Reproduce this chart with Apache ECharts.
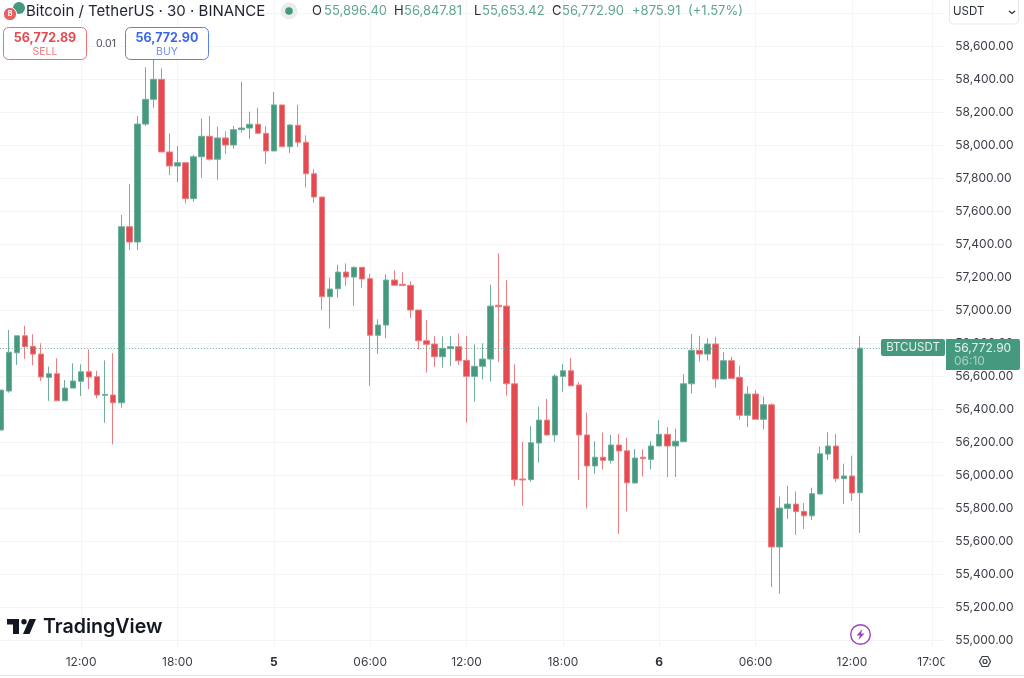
<!DOCTYPE html>
<html lang="en">

<head>
    <meta charset="UTF-8" />
    <title>Bitcoin / TetherUS 30m</title>
    <script src="https://cdn.jsdelivr.net/npm/echarts@6/dist/echarts.min.js"></script>
    <style>
        html, body { margin: 0; padding: 0; background: #fff; }
        #chart { width: 1024px; height: 678px; }
    </style>
    <script type="text/javascript">
        // half hour slots, the day number stands in for 00:00 and the slots after the last candle stay empty
        const categories = [
            "07:00","07:30","08:00","08:30","09:00","09:30","10:00","10:30","11:00","11:30",
            "12:00","12:30","13:00","13:30","14:00","14:30","15:00","15:30","16:00","16:30",
            "17:00","17:30","18:00","18:30","19:00","19:30","20:00","20:30","21:00","21:30",
            "22:00","22:30","23:00","23:30","5","00:30","01:00","01:30","02:00","02:30",
            "03:00","03:30","04:00","04:30","05:00","05:30","06:00","06:30","07:00","07:30",
            "08:00","08:30","09:00","09:30","10:00","10:30","11:00","11:30","12:00","12:30",
            "13:00","13:30","14:00","14:30","15:00","15:30","16:00","16:30","17:00","17:30",
            "18:00","18:30","19:00","19:30","20:00","20:30","21:00","21:30","22:00","22:30",
            "23:00","23:30","6","00:30","01:00","01:30","02:00","02:30","03:00","03:30",
            "04:00","04:30","05:00","05:30","06:00","06:30","07:00","07:30","08:00","08:30",
            "09:00","09:30","10:00","10:30","11:00","11:30","12:00","12:30","13:00","13:30",
            "14:00","14:30","15:00","15:30","16:00","16:30","17:00","17:30"
        ];
        const tickIndexes = [10, 22, 34, 46, 58, 70, 82, 94, 106, 116];
        const dayLabels = ["5", "6"];

        const opens = [
            56277,56513,56745,56848,56784,56737,56596,56618,56454,56531,
            56572,56630,56600,56487,56489,56442,57509,57416,58131,58281,
            58402,57962,57877,57897,57679,57933,58057,57918,58047,58004,
            58097,58107,58130,58075,57968,58247,57994,58124,58021,57830,
            57689,57085,57133,57234,57204,57263,57194,56851,56913,57186,
            57160,57154,57004,56818,56798,56721,56770,56782,56699,56602,
            56663,56707,57033,57028,56557,55980,55976,56198,56337,56247,
            56602,56636,56550,56247,56059,56112,56093,56186,56151,55956,
            56112,56099,56180,56251,56180,56206,56557,56760,56737,56798,
            56586,56697,56596,56366,56495,56342,56430,55568,55802,55828,
            55784,55757,55889,56131,56180,55982,55998,55896.40
        ];
        const closes = [
            56519,56748,56848,56782,56737,56598,56618,56454,56531,56574,
            56630,56598,56489,56493,56442,57509,57416,58131,58281,58402,
            57962,57877,57897,57679,57933,58057,57918,58047,58004,58097,
            58107,58130,58075,57968,58247,57994,58125,58021,57830,57689,
            57085,57131,57234,57204,57263,57192,56851,56913,57186,57154,
            57152,57004,56818,56796,56721,56772,56782,56697,56602,56663,
            56707,57028,57024,56557,55976,55974,56200,56337,56247,56604,
            56636,56545,56247,56059,56112,56093,56186,56150,55957,56107,
            56103,56180,56251,56180,56209,56557,56760,56737,56798,56586,
            56697,56590,56366,56495,56342,56430,55568,55804,55828,55782,
            55757,55891,56133,56180,55982,55998,55895,56772.90
        ];
        const lows = [
            56277,56503,56671,56707,56669,56574,56454,56454,56454,56531,
            56483,56524,56469,56321,56190,56412,57368,57368,58119,58230,
            57962,57822,57780,57651,57661,57806,57909,57794,57950,57982,
            58079,58042,58075,57889,57968,57994,57956,57992,57748,57654,
            57004,56892,57079,57151,57030,57139,56544,56739,56833,57154,
            57150,56956,56764,56624,56659,56655,56665,56671,56321,56449,
            56584,56572,56691,56485,55938,55818,55964,56079,56242,56204,
            56509,56544,55974,55802,56012,56039,56073,55647,55784,55951,
            55994,56039,56180,55990,55992,56206,56499,56691,56697,56533,
            56586,56586,56339,56295,56342,56281,55325,55285,55738,55641,
            55677,55731,55889,56095,55960,55828,55847,55653.42
        ];
        const highs = [
            56519,56883,56848,56909,56857,56802,56661,56711,56580,56681,
            56675,56766,56636,56699,56742,57580,57768,58180,58475,58519,
            58469,58075,57998,57897,57944,58164,58180,58115,58087,58119,
            58388,58206,58230,58119,58325,58247,58131,58248,58063,57857,
            57689,57200,57277,57287,57267,57263,57224,56948,57221,57245,
            57233,57178,57004,56944,56848,56845,56848,56863,56848,56796,
            56802,57157,57348,57186,56675,56206,56301,56418,56465,56615,
            56677,56713,56568,56382,56209,56261,56247,56253,56230,56162,
            56160,56210,56337,56295,56285,56616,56859,56848,56833,56842,
            56748,56721,56667,56542,56519,56479,56439,55873,55939,55905,
            55834,55927,56176,56263,56253,56073,56121,56847.81
        ];

        const lastPrice = 56772.90;
        const askPrice = "56,772.90";
        const bidPrice = "56,772.89";
        const spread = "0.01";
        const countdown = "06:10";
        const titleText = "Bitcoin / TetherUS \u00b7 30 \u00b7 BINANCE";

        const green = "#45997f";
        const red = "#e34b50";
        const wickGreen = "#6fae9a";
        const wickRed = "#ec7d80";
        const gridColor = "#f2f4f5";
        const fontName = "Inter";

        function candleData() {
            let out = [];
            for (let i = 0; i < opens.length; i++) {
                out.push([opens[i], closes[i], lows[i], highs[i]]);
            }
            return out;
        }

        function isTick(index) {
            return tickIndexes.indexOf(index) >= 0;
        }

        function priceLabel(v) {
            if (v > 58600) return "";
            return v.toLocaleString("en-US", { minimumFractionDigits: 2, maximumFractionDigits: 2 });
        }

        function headerGraphics() {
            const valueStyle = { fontFamily: fontName, fontSize: 13, fill: "#5fa68f" };
            const letterStyle = { fontFamily: fontName, fontSize: 13, fill: "#2a2e39" };
            const parts = [
                ["O", 312, letterStyle], ["55,896.40", 324, valueStyle],
                ["H", 394, letterStyle], ["56,847.81", 404, valueStyle],
                ["L", 474, letterStyle], ["55,653.42", 482, valueStyle],
                ["C", 552, letterStyle], ["56,772.90", 562, valueStyle],
                ["+875.91", 632, valueStyle], ["(+1.57%)", 688, valueStyle]
            ];
            let out = parts.map(p => ({
                type: "text", x: p[1], y: 11, z: 100,
                style: Object.assign({ text: p[0], textVerticalAlign: "middle" }, p[2])
            }));
            out.push(
                { type: "text", x: 26, y: 11, z: 100, style: { text: titleText, fontFamily: fontName, fontSize: 15, fill: "#1f2430", textVerticalAlign: "middle" } },
                { type: "circle", z: 100, shape: { cx: 289, cy: 11, r: 8.5 }, style: { fill: "#e9eeed" } },
                { type: "circle", z: 101, shape: { cx: 289, cy: 11, r: 3.8 }, style: { fill: green } },
                // pair icons
                { type: "circle", z: 100, shape: { cx: 19, cy: 8, r: 6 }, style: { fill: green } },
                { type: "circle", z: 101, shape: { cx: 10, cy: 14, r: 6.6 }, style: { fill: "#e9605f", stroke: "#fff", lineWidth: 1 } },
                { type: "text", x: 10, y: 14, z: 102, style: { text: "B", fontFamily: fontName, fontSize: 7, fontWeight: "bold", fill: "#fff", textAlign: "center", textVerticalAlign: "middle" } },
                // sell / buy boxes
                { type: "rect", z: 100, shape: { x: 3.5, y: 27.5, width: 83, height: 32, r: 5 }, style: { fill: "#fff", stroke: "#ea7075", lineWidth: 1 } },
                { type: "text", x: 45, y: 38, z: 101, style: { text: bidPrice, fontFamily: fontName, fontSize: 12.5, fontWeight: "bold", fill: "#e5494f", textAlign: "center", textVerticalAlign: "middle" } },
                { type: "text", x: 45, y: 51.5, z: 101, style: { text: "SELL", fontFamily: fontName, fontSize: 10.5, fill: "#ec7a7e", textAlign: "center", textVerticalAlign: "middle" } },
                { type: "text", x: 106, y: 44, z: 101, style: { text: spread, fontFamily: fontName, fontSize: 10.5, fill: "#4a4e58", textAlign: "center", textVerticalAlign: "middle" } },
                { type: "rect", z: 100, shape: { x: 125.5, y: 27.5, width: 83, height: 32, r: 5 }, style: { fill: "#fff", stroke: "#5a7ff0", lineWidth: 1 } },
                { type: "text", x: 167, y: 38, z: 101, style: { text: askPrice, fontFamily: fontName, fontSize: 12.5, fontWeight: "bold", fill: "#3b66ee", textAlign: "center", textVerticalAlign: "middle" } },
                { type: "text", x: 167, y: 51.5, z: 101, style: { text: "BUY", fontFamily: fontName, fontSize: 10.5, fill: "#6f8ff0", textAlign: "center", textVerticalAlign: "middle" } }
            );
            return out;
        }

        function panelGraphics() {
            return [
                // currency select over the price scale
                { type: "rect", z: 100, shape: { x: 949.5, y: -4, width: 69, height: 28, r: 4 }, style: { fill: "#fff", stroke: "#e6e9ec", lineWidth: 1 } },
                { type: "text", x: 953, y: 12, z: 101, style: { text: "USDT", fontFamily: fontName, fontSize: 11.5, fill: "#2a2e39", textVerticalAlign: "middle" } },
                { type: "polyline", z: 101, shape: { points: [[1009, 11], [1012, 13.5], [1015, 11]] }, style: { stroke: "#2a2e39", lineWidth: 1.2, fill: null } },
                // last price tags
                { type: "rect", z: 100, shape: { x: 881, y: 339, width: 64, height: 17, r: 2 }, style: { fill: green } },
                { type: "text", x: 913, y: 347.5, z: 101, style: { text: "BTCUSDT", fontFamily: fontName, fontSize: 11.5, fill: "#e6f2ee", textAlign: "center", textVerticalAlign: "middle" } },
                { type: "rect", z: 100, shape: { x: 946, y: 339, width: 74, height: 31, r: [0, 2, 2, 0] }, style: { fill: green } },
                { type: "text", x: 954, y: 348, z: 101, style: { text: priceLabel(lastPrice), fontFamily: fontName, fontSize: 12, fill: "#e6f2ee", textVerticalAlign: "middle" } },
                { type: "text", x: 954, y: 361, z: 101, style: { text: countdown, fontFamily: fontName, fontSize: 12, fill: "#a9d2c5", textVerticalAlign: "middle" } },
                // logo
                { type: "polygon", z: 100, shape: { points: [[7, 619], [19, 619], [19, 634], [13, 634], [13, 624.5], [7, 624.5]] }, style: { fill: "#131722" } },
                { type: "circle", z: 100, shape: { cx: 24, cy: 621.7, r: 2.7 }, style: { fill: "#131722" } },
                { type: "polygon", z: 100, shape: { points: [[29.5, 619], [36, 619], [29.5, 634], [23, 634]] }, style: { fill: "#131722" } },
                { type: "text", x: 43, y: 627, z: 100, style: { text: "TradingView", fontFamily: fontName, fontSize: 19.6, fontWeight: 600, fill: "#131722", textVerticalAlign: "middle" } },
                // lightning mark
                { type: "circle", z: 100, shape: { cx: 860.5, cy: 634.5, r: 9.8 }, style: { fill: "#fff", stroke: "#a23ec0", lineWidth: 1.4 } },
                { type: "polygon", z: 101, shape: { points: [[862.5, 629], [856.5, 635.5], [860, 635.5], [858.5, 640], [864.5, 633.5], [861, 633.5]] }, style: { fill: "#a23ec0" } },
                // corner of the time scale, cuts the last label like the real panel does
                { type: "rect", z: 100, shape: { x: 944.5, y: 648, width: 79.5, height: 26 }, style: { fill: "#fff" } },
                { type: "polygon", z: 101, shape: { points: [[979.5, 661.5], [982.2, 656.5], [987.8, 656.5], [990.5, 661.5], [987.8, 666.5], [982.2, 666.5]] }, style: { fill: "#fff", stroke: "#3a3e48", lineWidth: 1.2 } },
                { type: "circle", z: 102, shape: { cx: 985, cy: 661.5, r: 2 }, style: { fill: "#fff", stroke: "#3a3e48", lineWidth: 1.2 } },
                { type: "line", z: 100, shape: { x1: 0, y1: 675.5, x2: 1024, y2: 675.5 }, style: { stroke: "#e3e6e9", lineWidth: 1 } }
            ];
        }

        function drawChart() {
            let chart = echarts.init(document.getElementById("chart"), null, { renderer: "canvas" });
            // first grid carries the prices, second one only the time scale because its lines run lower
            let option = {
                animation: false,
                backgroundColor: "#ffffff",
                grid: [
                    { left: -3.2, top: -19.3, width: 947.5, height: 660, outerBoundsMode: "none" },
                    { left: -3.2, top: 0, width: 947.5, height: 647, outerBoundsMode: "none" }
                ],
                xAxis: [
                    {
                        type: "category", gridIndex: 0, data: categories, show: false
                    },
                    {
                        type: "category", gridIndex: 1, data: categories,
                        axisLine: { show: false },
                        axisTick: { show: false },
                        splitLine: {
                            show: true,
                            alignWithLabel: true,
                            interval: (i) => isTick(i),
                            lineStyle: { color: gridColor, width: 1 }
                        },
                        axisLabel: {
                            interval: (i) => isTick(i),
                            margin: 9,
                            color: "#3a3e48",
                            fontFamily: fontName,
                            fontSize: 12,
                            formatter: (v) => dayLabels.indexOf(v) >= 0 ? "{day|" + v + "}" : v,
                            rich: { day: { fontFamily: fontName, fontSize: 12, fontWeight: "bold", color: "#2a2e39" } }
                        }
                    }
                ],
                yAxis: [
                    {
                        type: "value", gridIndex: 0, position: "right",
                        min: 55000, max: 59000, interval: 200,
                        axisLine: { show: false },
                        axisTick: { show: false },
                        splitLine: { show: true, lineStyle: { color: gridColor, width: 1 } },
                        axisLabel: {
                            margin: 11,
                            color: "#3a3e48",
                            fontFamily: fontName,
                            fontSize: 12,
                            formatter: priceLabel
                        }
                    },
                    { type: "value", gridIndex: 1, show: false, min: 0, max: 1 }
                ],
                series: [
                    {
                        type: "candlestick",
                        xAxisIndex: 0,
                        yAxisIndex: 0,
                        barWidth: 6,
                        data: candleData(),
                        itemStyle: {
                            color: green,
                            color0: red,
                            borderColor: wickGreen,
                            borderColor0: wickRed,
                            borderWidth: 1
                        },
                        markLine: {
                            silent: true,
                            symbol: "none",
                            label: { show: false },
                            lineStyle: { color: "#5fa68f", type: [1, 2], width: 1 },
                            data: [{ yAxis: lastPrice }]
                        }
                    }
                ],
                graphic: { elements: headerGraphics().concat(panelGraphics()) }
            };
            chart.setOption(option);
            return chart;
        }

        window.addEventListener("load", drawChart);
    </script>
</head>

<body>
    <div id="chart"></div>
</body>

</html>
